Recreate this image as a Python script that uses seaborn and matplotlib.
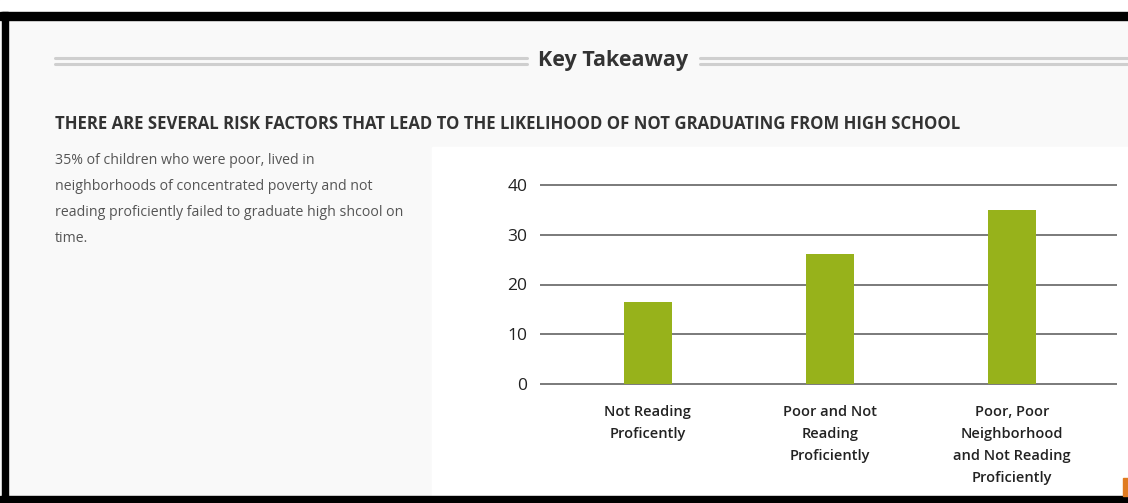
import matplotlib
matplotlib.use("Agg")
import matplotlib.pyplot as plt
from matplotlib.patches import Rectangle
import seaborn as sns
import pandas as pd

# chart data
categories = [
    "Not Reading\nProficently",
    "Poor and Not\nReading\nProficiently",
    "Poor, Poor\nNeighborhood\nand Not Reading\nProficiently",
]
values = [16.5, 26.2, 35.0]
y_ticks = [0, 10, 20, 30, 40]

header = "Key Takeaway"
subtitle = "THERE ARE SEVERAL RISK FACTORS THAT LEAD TO THE LIKELIHOOD OF NOT GRADUATING FROM HIGH SCHOOL"
body_lines = [
    "35% of children who were poor, lived in",
    "neighborhoods of concentrated poverty and not",
    "reading proficiently failed to graduate high shcool on",
    "time.",
]

W, H = 1128, 503
BAR = "#97b21b"

sns.set_theme(style="white")
plt.rcParams["font.family"] = ["Open Sans", "DejaVu Sans"]

fig = plt.figure(figsize=(W / 100, H / 100), dpi=100)

# ── page background, drawn in pixel coordinates
bg = fig.add_axes([0, 0, 1, 1])
bg.set_xlim(0, W)
bg.set_ylim(H, 0)
bg.axis("off")
bg.add_patch(Rectangle((0, 0), W, H, color="#f9f9f9", zorder=0))
bg.add_patch(Rectangle((0, 0), W, 12, color="white", zorder=1))
bg.add_patch(Rectangle((0, 12), W, 8, color="black", zorder=2))
bg.add_patch(Rectangle((2, 12), 6, H, color="black", zorder=2))
bg.add_patch(Rectangle((0, 496), W, 7, color="black", zorder=2))
bg.add_patch(Rectangle((432, 147), W - 432, 349, color="white", zorder=1))
bg.add_patch(Rectangle((1123, 478), 5, 18, color="#e07b20", zorder=2))

# double rules beside the header
for y0 in (57.5, 63.5):
    bg.plot([55, 527], [y0, y0], color="#cfcfcf", lw=2.2, zorder=1)
    bg.plot([700, W], [y0, y0], color="#cfcfcf", lw=2.2, zorder=1)

bg.text(613, 60, header, ha="center", va="center", fontsize=15.5,
        fontweight="bold", color="#333333")
bg.text(55, 124, subtitle, ha="left", va="center", fontsize=12.1,
        fontweight="bold", color="#333333")
for i, line in enumerate(body_lines):
    bg.text(55, 160 + i * 26.3, line, ha="left", va="center",
            fontsize=10.2, color="#555555")

# ── bar chart
ppu = (384 - 185) / 40.0          # pixels per unit
ymin, ymax = -0.4, 41.5
bottom_px = (H - 384) - (0 - ymin) * ppu
height_px = (ymax - ymin) * ppu
ax = fig.add_axes([540 / W, bottom_px / H, (1117 - 540) / W, height_px / H])
ax.patch.set_alpha(0)

df = pd.DataFrame({"category": categories, "value": values})
sns.barplot(data=df, x="category", y="value", color=BAR, saturation=1,
            width=0.265, linewidth=0, ax=ax, zorder=3)

ax.set_xlim(-0.593, 2.577)
ax.set_ylim(ymin, ymax)
ax.set_yticks(y_ticks)
for t in y_ticks:
    ax.axhline(t, color="#7a7a7a", lw=1.4, zorder=1)
for s in ax.spines.values():
    s.set_visible(False)
ax.set_xlabel("")
ax.set_ylabel("")
ax.tick_params(axis="y", length=0, pad=9, labelsize=12.5, labelcolor="#222222")
ax.tick_params(axis="x", length=0, pad=14)
for lab in ax.get_xticklabels():
    lab.set_fontsize(10.5)
    lab.set_fontweight("semibold")
    lab.set_color("#222222")
    lab.set_linespacing(1.72)
    lab.set_verticalalignment("top")

fig.savefig("out.png", dpi=100)
